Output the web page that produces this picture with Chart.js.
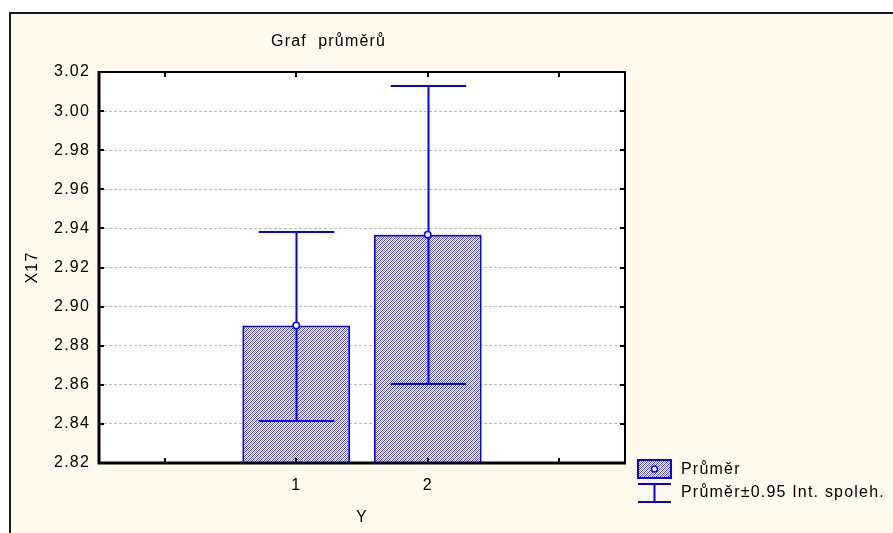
<!DOCTYPE html>
<html><head><meta charset="utf-8">
<script src="https://cdn.jsdelivr.net/npm/chart.js@4.4.0/dist/chart.umd.min.js"></script>
<style>html,body{margin:0;padding:0;background:#fff}#wrap{width:893px;height:533px}</style>
</head><body><div id="wrap"><canvas id="c" width="893" height="533"></canvas></div>
<script>
// ---- data ----
const categories = ['', '1', '2', ''];
const means = [null, 2.8903, 2.9368, null];
const upper95 = [null, 2.9380, 3.0126, null];
const lower95 = [null, 2.8416, 2.8606, null];
const yMin = 2.82, yMax = 3.02, yStep = 0.02;
const titleText = 'Graf  průměrů';
const xTitle = 'Y';
const yTitle = 'X17';
const legendLabels = ['Průměr', 'Průměr±0.95 Int. spoleh.'];

// ---- styles ----
const BLUE = '#0000ff';
const CREAM = '#fff9ee';
const FONT = '"Liberation Sans", Arial, sans-serif';
const SPACING = '1.2px';

function makeHatch() {
  const c = document.createElement('canvas'); c.width = 4; c.height = 4;
  const x = c.getContext('2d');
  x.fillStyle = '#ffffff'; x.fillRect(0, 0, 4, 4);
  for (let i = 0; i < 4; i++) {
    for (let j = 0; j < 4; j++) {
      const k = (i + j) % 4;
      if (k === 0) { x.fillStyle = 'rgb(60,60,255)'; x.fillRect(i, j, 1, 1); }
      else if (k === 2) { x.fillStyle = 'rgb(140,140,255)'; x.fillRect(i, j, 1, 1); }
    }
  }
  return x.createPattern(c, 'repeat');
}
const hatch = makeHatch();

Chart.defaults.font.family = FONT;
Chart.defaults.font.size = 16;
Chart.defaults.color = '#000';

const spacingPlugin = {
  id: 'spacing',
  beforeUpdate(ch) { ch.ctx.letterSpacing = SPACING; },
  beforeLayout(ch) { ch.ctx.letterSpacing = SPACING; },
  beforeDraw(ch) { ch.ctx.letterSpacing = SPACING; }
};

const backgroundPlugin = {
  id: 'bg',
  beforeDraw(ch) {
    const ctx = ch.ctx, a = ch.chartArea;
    ctx.save();
    ctx.fillStyle = '#fff'; ctx.fillRect(0, 0, ch.width, ch.height);
    ctx.fillStyle = CREAM; ctx.fillRect(10, 13, ch.width - 10, ch.height - 13);
    ctx.strokeStyle = '#1a1a1a'; ctx.lineWidth = 2;
    ctx.beginPath(); ctx.moveTo(10, ch.height); ctx.lineTo(10, 13); ctx.lineTo(ch.width, 13); ctx.stroke();
    ctx.fillStyle = '#fff'; ctx.fillRect(a.left, a.top, a.right - a.left, a.bottom - a.top);
    ctx.restore();
  }
};

const errorPlugin = {
  id: 'errbars',
  afterDatasetDraw(ch, args) {
    if (args.index !== 0) return;
    const ctx = ch.ctx, ys = ch.scales.y;
    const meta = ch.getDatasetMeta(0);
    ctx.save();
    ctx.strokeStyle = BLUE; ctx.lineWidth = 2;
    meta.data.forEach((bar, i) => {
      if (means[i] == null) return;
      const x = Math.round(bar.x) + 0.5;
      const half = bar.width * 0.35;
      const yu = Math.round(ys.getPixelForValue(upper95[i]));
      const yl = Math.round(ys.getPixelForValue(lower95[i]));
      ctx.beginPath();
      ctx.moveTo(x, yu); ctx.lineTo(x, yl);
      ctx.moveTo(x - half, yu); ctx.lineTo(x + half, yu);
      ctx.moveTo(x - half, yl); ctx.lineTo(x + half, yl);
      ctx.stroke();
    });
    ctx.restore();
  }
};

const framePlugin = {
  id: 'frame',
  afterDraw(ch) {
    const ctx = ch.ctx, a = ch.chartArea, xs = ch.scales.x, ys = ch.scales.y;
    ctx.save();
    ctx.letterSpacing = SPACING;
    ctx.strokeStyle = '#000';
    ctx.lineWidth = 2;
    ctx.beginPath(); ctx.moveTo(a.left, a.top); ctx.lineTo(a.right, a.top); ctx.lineTo(a.right, a.bottom); ctx.stroke();
    ctx.lineWidth = 3;
    ctx.beginPath(); ctx.moveTo(a.left, a.top - 1); ctx.lineTo(a.left, a.bottom); ctx.lineTo(a.right + 1, a.bottom); ctx.stroke();
    ctx.lineWidth = 2;
    ctx.beginPath();
    categories.forEach((c, i) => {
      const x = Math.round(xs.getPixelForTick(i));
      ctx.moveTo(x, a.bottom); ctx.lineTo(x, a.bottom - 5);
      ctx.moveTo(x, a.top); ctx.lineTo(x, a.top + 5);
    });
    ys.ticks.forEach((t, i) => {
      const y = Math.round(ys.getPixelForTick(i));
      ctx.moveTo(a.left, y); ctx.lineTo(a.left + 5, y);
      ctx.moveTo(a.right, y); ctx.lineTo(a.right - 5, y);
    });
    ctx.stroke();
    ctx.fillStyle = '#000';
    ctx.font = '16px ' + FONT;
    ctx.textAlign = 'left'; ctx.textBaseline = 'alphabetic';
    ctx.fillText(titleText, 271, 46);
    const lx = 638, lw = 33;
    ctx.fillStyle = hatch; ctx.fillRect(lx, 460, lw, 18);
    ctx.strokeStyle = BLUE; ctx.lineWidth = 2; ctx.strokeRect(lx, 460, lw, 18);
    ctx.beginPath(); ctx.arc(lx + lw / 2, 469, 3, 0, Math.PI * 2);
    ctx.fillStyle = '#fff'; ctx.fill(); ctx.lineWidth = 1.5; ctx.stroke();
    ctx.lineWidth = 2;
    ctx.beginPath();
    ctx.moveTo(lx, 484); ctx.lineTo(lx + lw, 484);
    ctx.moveTo(lx, 502); ctx.lineTo(lx + lw, 502);
    ctx.moveTo(lx + lw / 2, 484); ctx.lineTo(lx + lw / 2, 502);
    ctx.stroke();
    ctx.fillStyle = '#000'; ctx.textBaseline = 'middle';
    ctx.fillText(legendLabels[0], 681, 470);
    ctx.fillText(legendLabels[1], 681, 493);
    ctx.restore();
  }
};

new Chart(document.getElementById('c'), {
  data: {
    labels: categories,
    datasets: [
      {
        type: 'bar', order: 2,
        data: means,
        backgroundColor: hatch,
        borderColor: BLUE, borderWidth: 2, borderSkipped: false,
        barPercentage: 0.82, categoryPercentage: 1.0
      },
      {
        type: 'line', order: 1,
        data: means, showLine: false,
        pointStyle: 'circle', pointRadius: 3.2,
        pointBackgroundColor: '#fff', pointBorderColor: BLUE, pointBorderWidth: 1.5
      }
    ]
  },
  options: {
    responsive: false,
    animation: false,
    events: [],
    layout: { padding: { left: 0, top: 72, right: 268, bottom: 0 } },
    plugins: { legend: { display: false }, tooltip: { enabled: false }, title: { display: false } },
    scales: {
      x: {
        type: 'category',
        offset: true,
        grid: { display: false, drawTicks: false },
        border: { display: false },
        ticks: { padding: 13, font: { size: 16 }, autoSkip: false, maxRotation: 0 },
        title: { display: true, text: xTitle, font: { size: 16 }, padding: { top: 0, bottom: 6 } },
        afterFit(s) { s.height = 70; }
      },
      y: {
        type: 'linear',
        min: yMin, max: yMax,
        grid: {
          drawTicks: false,
          lineWidth: 1,
          color: c => (Math.abs(c.tick.value - yMin) < 1e-6 || Math.abs(c.tick.value - yMax) < 1e-6) ? 'rgba(0,0,0,0)' : '#bdbdbd'
        },
        border: { display: false, dash: [3, 2] },
        ticks: { stepSize: yStep, padding: 9, font: { size: 16 }, callback: v => Number(v).toFixed(2) },
        title: { display: true, text: yTitle, font: { size: 16 }, padding: { top: 23, bottom: 0 } },
        afterFit(s) { s.width = 99; }
      }
    }
  },
  plugins: [spacingPlugin, backgroundPlugin, errorPlugin, framePlugin]
});
</script>
</body></html>
